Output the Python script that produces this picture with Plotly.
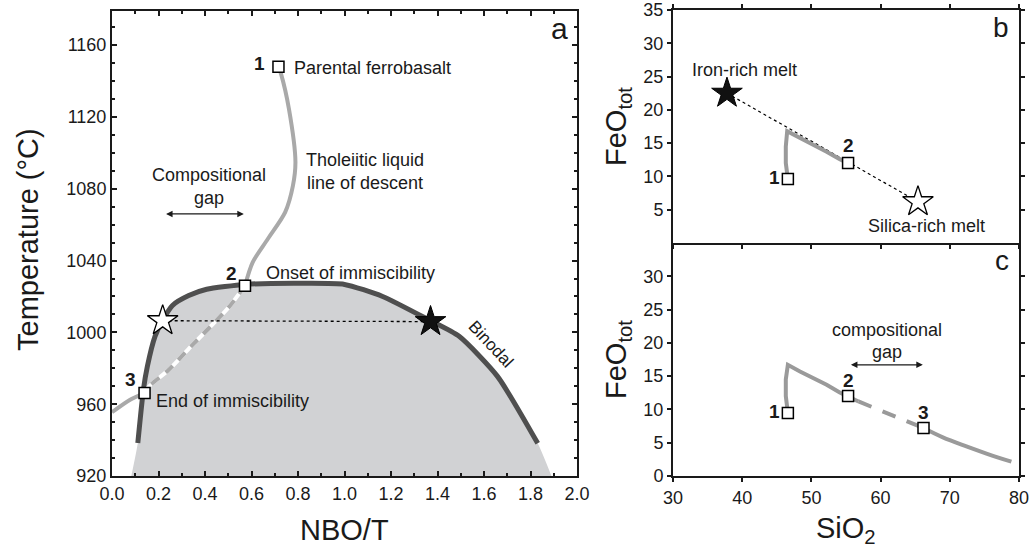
import plotly.graph_objects as go

# ---------------- Panel a data (NBO/T vs Temperature) ----------------
binodal_x = [0.111, 0.135, 0.152, 0.185, 0.215, 0.26, 0.33, 0.407, 0.572, 0.835, 1.0, 1.164, 1.362, 1.493, 1.658, 1.831]
binodal_y = [938.4, 968.0, 981.0, 997.8, 1006.0, 1015.0, 1020.5, 1024.0, 1026.7, 1027.3, 1026.7, 1020.0, 1007.0, 997.8, 975.5, 938.2]
fill_left = [0.083, 920]
fill_right = [1.89, 920]

lld_upper_x = [0.716, 0.727, 0.761, 0.789, 0.778, 0.745, 0.67, 0.605, 0.572]
lld_upper_y = [1148.0, 1144.0, 1124.5, 1095.0, 1081.6, 1067.0, 1052.0, 1039.0, 1026.0]
lld_gap_x = [0.572, 0.506, 0.44, 0.341, 0.243, 0.16, 0.14]
lld_gap_y = [1026.0, 1014.6, 1005.4, 992.3, 979.0, 970.0, 966.2]
lld_lower_x = [0.14, 0.078, 0.0]
lld_lower_y = [966.2, 962.5, 955.5]

a_square_x = [0.716, 0.572, 0.14]
a_square_y = [1148.0, 1026.0, 966.2]
a_star_open = [0.218, 1006.5]
a_star_black = [1.37, 1006.0]

# ---------------- Panel b data (SiO2 vs FeOtot) ----------------
b_curve_x = [46.6, 46.3, 46.3, 46.5, 48.3, 50.3, 52.2, 54.1, 55.3]
b_curve_y = [9.6, 12.0, 14.5, 16.8, 15.8, 14.8, 13.7, 12.6, 12.0]
b_square_x = [46.6, 55.3]
b_square_y = [9.6, 12.0]
b_star_black = [37.8, 22.5]
b_star_open = [65.4, 6.2]

# ---------------- Panel c data ----------------
c_solid1_x = [46.6, 46.3, 46.3, 46.6, 48.35, 50.3, 52.2, 54.1, 55.3, 56.8]
c_solid1_y = [9.45, 12.0, 14.5, 16.7, 15.7, 14.7, 13.7, 12.55, 12.0, 11.2]
c_dash_x = [56.8, 66.2]
c_dash_y = [11.2, 7.2]
c_solid2_x = [66.2, 69.0, 72.4, 75.5, 78.9]
c_solid2_y = [7.2, 5.8, 4.45, 3.3, 2.15]
c_square_x = [46.6, 55.3, 66.2]
c_square_y = [9.45, 12.0, 7.2]

# tick labels
a_xticks = [0.0, 0.2, 0.4, 0.6, 0.8, 1.0, 1.2, 1.4, 1.6, 1.8, 2.0]
a_yticks = [920, 960, 1000, 1040, 1080, 1120, 1160]
bc_xticks = [30, 40, 50, 60, 70, 80]
b_yticks = [5, 10, 15, 20, 25, 30, 35]
c_yticks = [0, 5, 10, 15, 20, 25, 30]

FONT = "Arial, Liberation Sans, Helvetica, sans-serif"
FILL = "#d1d2d4"
BINODAL = "#4f4f4f"
LLD = "#a9a9a9"
LLD_BC = "#9a9a9a"

fig = go.Figure()

# ---- Panel a ----
fig.add_trace(go.Scatter(
    x=[fill_left[0]] + binodal_x + [fill_right[0]],
    y=[fill_left[1]] + binodal_y + [fill_right[1]],
    mode="lines", line=dict(width=0, color=FILL, shape="spline", smoothing=0.6),
    fill="toself", fillcolor=FILL, xaxis="x", yaxis="y", hoverinfo="skip"))
fig.add_trace(go.Scatter(x=binodal_x, y=binodal_y, mode="lines",
    line=dict(color=BINODAL, width=5, shape="spline", smoothing=0.6), xaxis="x", yaxis="y"))
fig.add_trace(go.Scatter(x=lld_upper_x, y=lld_upper_y, mode="lines",
    line=dict(color=LLD, width=4, shape="spline", smoothing=0.8), xaxis="x", yaxis="y"))
fig.add_trace(go.Scatter(x=lld_gap_x, y=lld_gap_y, mode="lines",
    line=dict(color="white", width=4, shape="spline", smoothing=0.8), xaxis="x", yaxis="y"))
fig.add_trace(go.Scatter(x=lld_gap_x, y=lld_gap_y, mode="lines",
    line=dict(color=LLD, width=4, shape="spline", smoothing=0.8, dash="10px,8px"), xaxis="x", yaxis="y"))
fig.add_trace(go.Scatter(x=lld_lower_x, y=lld_lower_y, mode="lines",
    line=dict(color=LLD, width=4, shape="spline", smoothing=0.8), xaxis="x", yaxis="y"))
fig.add_trace(go.Scatter(x=[a_star_open[0], a_star_black[0]], y=[a_star_open[1], a_star_black[1]],
    mode="lines", line=dict(color="black", width=1.3, dash="3px,3px"), xaxis="x", yaxis="y"))
fig.add_trace(go.Scatter(x=a_square_x, y=a_square_y, mode="markers",
    marker=dict(symbol="square", size=11, color="white", line=dict(color="black", width=1.5)),
    xaxis="x", yaxis="y"))
fig.add_trace(go.Scatter(x=[a_star_open[0]], y=[a_star_open[1]], mode="markers",
    marker=dict(symbol="star", size=23, color="white", line=dict(color="black", width=1.3)),
    xaxis="x", yaxis="y"))
fig.add_trace(go.Scatter(x=[a_star_black[0]], y=[a_star_black[1]], mode="markers",
    marker=dict(symbol="star", size=23, color="#111111", line=dict(color="black", width=1)),
    xaxis="x", yaxis="y"))

# ---- Panel b ----
fig.add_trace(go.Scatter(x=[b_star_black[0], b_star_open[0]], y=[b_star_black[1], b_star_open[1]],
    mode="lines", line=dict(color="black", width=1.2, dash="3px,3px"), xaxis="x2", yaxis="y2"))
fig.add_trace(go.Scatter(x=b_curve_x, y=b_curve_y, mode="lines",
    line=dict(color=LLD_BC, width=4), xaxis="x2", yaxis="y2"))
fig.add_trace(go.Scatter(x=b_square_x, y=b_square_y, mode="markers",
    marker=dict(symbol="square", size=11, color="white", line=dict(color="black", width=1.5)),
    xaxis="x2", yaxis="y2"))
fig.add_trace(go.Scatter(x=[b_star_black[0]], y=[b_star_black[1]], mode="markers",
    marker=dict(symbol="star", size=23, color="#111111", line=dict(color="black", width=1)),
    xaxis="x2", yaxis="y2"))
fig.add_trace(go.Scatter(x=[b_star_open[0]], y=[b_star_open[1]], mode="markers",
    marker=dict(symbol="star", size=23, color="white", line=dict(color="black", width=1.3)),
    xaxis="x2", yaxis="y2"))

# ---- Panel c ----
fig.add_trace(go.Scatter(x=c_solid1_x, y=c_solid1_y, mode="lines",
    line=dict(color=LLD_BC, width=4), xaxis="x3", yaxis="y3"))
fig.add_trace(go.Scatter(x=c_dash_x, y=c_dash_y, mode="lines",
    line=dict(color=LLD_BC, width=4, dash="14px,12px"), xaxis="x3", yaxis="y3"))
fig.add_trace(go.Scatter(x=c_solid2_x, y=c_solid2_y, mode="lines",
    line=dict(color=LLD_BC, width=4, shape="spline"), xaxis="x3", yaxis="y3"))
fig.add_trace(go.Scatter(x=c_square_x, y=c_square_y, mode="markers",
    marker=dict(symbol="square", size=11, color="white", line=dict(color="black", width=1.5)),
    xaxis="x3", yaxis="y3"))

W, H = 1033, 558
def px_x(p):
    return p / W
def px_y(p):
    return (H - p) / H

axis_common = dict(showline=True, linecolor="#1a1a1a", linewidth=2, mirror="allticks",
                   showgrid=False, zeroline=False, automargin=False,
                   tickfont=dict(family=FONT, size=18, color="#1a1a1a"),
                   tickcolor="#1a1a1a", tickwidth=1.5)

fig.update_layout(
    width=W, height=H, margin=dict(l=0, r=0, t=0, b=0, autoexpand=False),
    paper_bgcolor="white", plot_bgcolor="white", showlegend=False,
    font=dict(family=FONT, color="#1a1a1a"),
    xaxis=dict(axis_common, domain=[px_x(112), px_x(577)], range=[0, 2.0], anchor="y",
               tickvals=a_xticks, ticktext=[f"{v:.1f}" for v in a_xticks], ticks="inside", ticklen=5,
               minor=dict(dtick=0.1, tick0=0, ticks="inside", ticklen=3, tickcolor="#1a1a1a")),
    yaxis=dict(axis_common, domain=[px_y(476), px_y(11)], range=[920, 1179], anchor="x",
               tickvals=a_yticks, ticks="inside", ticklen=5,
               minor=dict(dtick=10, tick0=920, ticks="inside", ticklen=3, tickcolor="#1a1a1a")),
    xaxis2=dict(axis_common, domain=[px_x(673), px_x(1019)], range=[30, 80], anchor="y2",
                tickvals=bc_xticks, showticklabels=False, ticks="outside", ticklen=4),
    yaxis2=dict(axis_common, domain=[px_y(243), px_y(10)], range=[0, 35], anchor="x2",
                tickvals=b_yticks, ticks="outside", ticklen=4),
    xaxis3=dict(axis_common, domain=[px_x(673), px_x(1019)], range=[30, 80], anchor="y3",
                tickvals=bc_xticks, ticks="outside", ticklen=4, mirror=False),
    yaxis3=dict(axis_common, domain=[px_y(476), px_y(243)], range=[0, 35], anchor="x3",
                tickvals=c_yticks, ticks="outside", ticklen=4),
)

ann = []
def txt(x, y, text, ref="", size=18, bold=False, xanchor="center", angle=0):
    t = f"<b>{text}</b>" if bold else text
    ann.append(dict(x=x, y=y, xref="x" + ref, yref="y" + ref, text=t, showarrow=False,
                    xanchor=xanchor, yanchor="middle", textangle=angle,
                    font=dict(family=FONT, size=size, color="#1a1a1a")))

# panel a texts
txt(0.665, 1150, "1", size=19, bold=True, xanchor="right")
txt(0.775, 1147, "Parental ferrobasalt", xanchor="left")
txt(0.827, 1089.5, "Tholeiitic liquid<br>line of descent", xanchor="left")
txt(0.418, 1081, "Compositional<br>gap")
txt(0.514, 1033, "2", size=19, bold=True)
txt(0.654, 1033, "Onset of immiscibility", xanchor="left")
txt(0.078, 974, "3", size=19, bold=True)
txt(0.18, 962, "End of immiscibility", xanchor="left")
txt(1.63, 993, "Binodal", size=17, angle=47)
txt(1.925, 1169, "a", size=30)
ann.append(dict(x=0.567, y=1066, ax=0.226, ay=1066, xref="x", yref="y", axref="x", ayref="y",
                showarrow=True, arrowhead=2, arrowside="end+start", arrowsize=1, arrowwidth=1.3,
                arrowcolor="#1a1a1a", text=""))

# panel b texts
txt(40.4, 26.0, "Iron-rich melt", ref="2", size=18)
txt(66.7, 2.5, "Silica-rich melt", ref="2", size=18)
txt(45.8, 9.8, "1", ref="2", size=19, bold=True, xanchor="right")
txt(55.3, 14.6, "2", ref="2", size=19, bold=True)
txt(77.4, 32.3, "b", ref="2", size=28)

# panel c texts
txt(60.9, 21.9, "compositional", ref="3", size=18)
txt(60.9, 18.6, "gap", ref="3", size=18)
txt(45.8, 9.7, "1", ref="3", size=19, bold=True, xanchor="right")
txt(55.3, 14.3, "2", ref="3", size=19, bold=True)
txt(66.2, 9.6, "3", ref="3", size=19, bold=True)
txt(77.5, 32.3, "c", ref="3", size=28)
ann.append(dict(x=66.1, y=16.7, ax=55.5, ay=16.7, xref="x3", yref="y3", axref="x3", ayref="y3",
                showarrow=True, arrowhead=2, arrowside="end+start", arrowsize=1, arrowwidth=1.3,
                arrowcolor="#1a1a1a", text=""))

# axis titles
def title(x, y, text, angle=0):
    ann.append(dict(x=x, y=y, xref="paper", yref="paper", text=text, showarrow=False,
                    xanchor="center", yanchor="middle", textangle=angle,
                    font=dict(family=FONT, size=29, color="#1a1a1a")))

title(px_x(28), px_y(240), "Temperature (°C)", angle=-90)
title(px_x(344), px_y(530), "NBO/T")
title(px_x(846), px_y(530), "SiO<sub>2</sub>")
title(px_x(618), px_y(127), "FeO<sub>tot</sub>", angle=-90)
title(px_x(618), px_y(360), "FeO<sub>tot</sub>", angle=-90)

fig.update_layout(annotations=ann)
fig.write_html("out.html", config={"displayModeBar": False},
               post_script="document.body.style.margin='0px';document.body.style.padding='0px';")
